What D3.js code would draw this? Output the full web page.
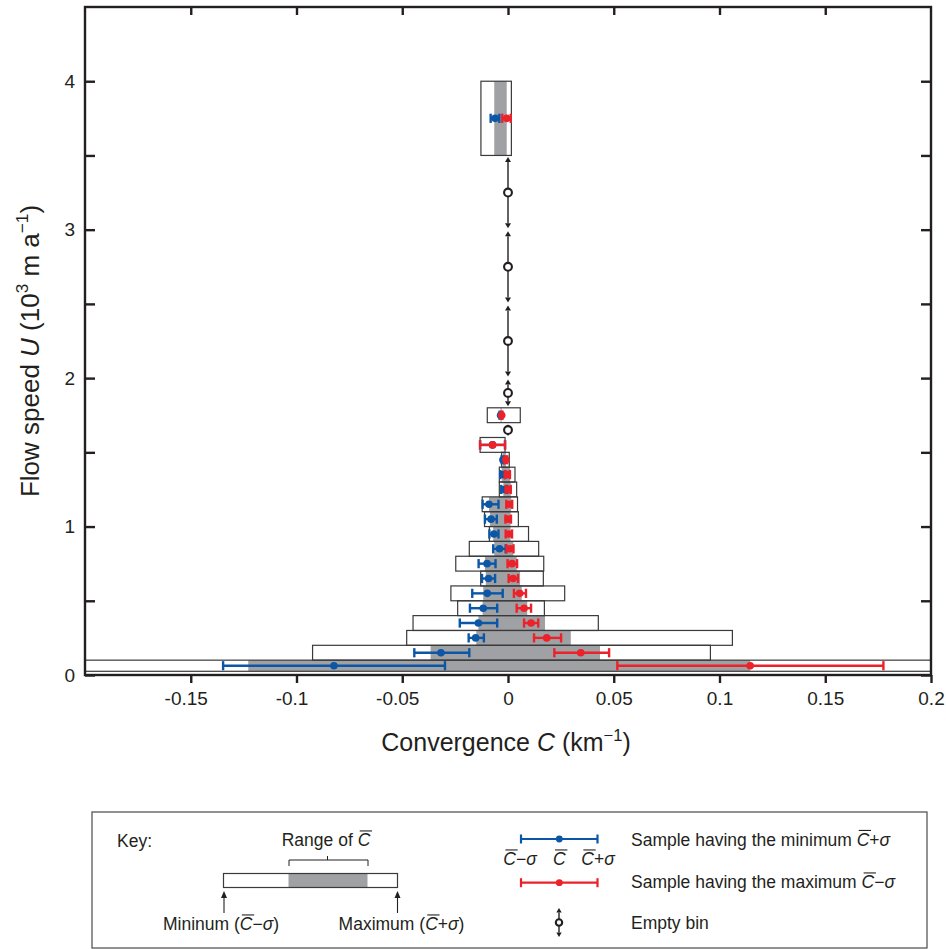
<!DOCTYPE html>
<html>
<head>
<meta charset="utf-8">
<script src="https://cdn.jsdelivr.net/npm/d3@7"></script>
<style>
  body { margin: 0; background: #fff; }
  text { font-family: "Liberation Sans", Arial, Helvetica, sans-serif; fill: #231f20; }
</style>
</head>
<body>
<svg id="chart" width="946" height="949"></svg>
<script>
// ---- Occupied flow-speed bins (10^3 m a^-1) ----
const binLow  = [0.025, 0.1, 0.2, 0.3, 0.4, 0.5, 0.6, 0.7, 0.8, 0.9, 1.0, 1.1, 1.2, 1.3, 1.4, 1.5, 1.7, 3.5];
const binHigh = [0.1,   0.2, 0.3, 0.4, 0.5, 0.6, 0.7, 0.8, 0.9, 1.0, 1.1, 1.2, 1.3, 1.4, 1.5, 1.6, 1.8, 4.0];

// Overall minimum (C̄−σ) and maximum (C̄+σ) in each bin (km^-1)
const boxMin = [-0.21, -0.0924, -0.0479, -0.0449, -0.0238, -0.0270, -0.0129, -0.0247, -0.0183, -0.0088, -0.0111, -0.0122, -0.0041, -0.0041, -0.0030, -0.0132, -0.0098, -0.0128];
const boxMax = [ 0.21,  0.0957,  0.1061,  0.0427,  0.0172,  0.0268,  0.0167,  0.0169,  0.0145,  0.0097,  0.0049,  0.0045,  0.0041,  0.0033,  0.0006, -0.0014,  0.0058,  0.0016];

// Range of C̄ within each bin
const meanMin = [-0.1228, -0.0366, -0.0150, -0.0140, -0.0120, -0.0117, -0.0105, -0.0109, -0.0065, -0.0070, -0.0085, -0.0090, -0.0022, -0.0030, -0.0024, -0.0073, -0.0035, -0.0065];
const meanMax = [ 0.1145,  0.0435,  0.0297,  0.0175,  0.0091,  0.0065,  0.0057,  0.0041,  0.0025,  0.0012,  0.0012,  0.0015,  0.0013,  0.0010, -0.0010, -0.0073, -0.0030, -0.0006];

// Sample having the minimum C̄+σ
const blueLo   = [-0.1347, -0.0443, -0.0186, -0.0228, -0.0180, -0.0169, -0.0123, -0.0139, -0.0070, -0.0088, -0.0109, -0.0120, -0.0032, -0.0037, -0.0030, -0.0132, -0.0040, -0.0082];
const blueMean = [-0.0823, -0.0317, -0.0153, -0.0140, -0.0117, -0.0098, -0.0092, -0.0099, -0.0040, -0.0066, -0.0080, -0.0090, -0.0018, -0.0025, -0.0024, -0.0073, -0.0035, -0.0061];
const blueHi   = [-0.0298, -0.0183, -0.0114, -0.0051, -0.0051, -0.0025, -0.0061, -0.0059, -0.0011, -0.0045, -0.0053, -0.0045, -0.0004, -0.0013, -0.0018, -0.0014, -0.0030, -0.0041];

// Sample having the maximum C̄−σ
const redLo   = [0.0517, 0.0219, 0.0123, 0.0076, 0.0041, 0.0028, 0.0003, -0.0002, -0.0007, -0.0011, -0.0012, -0.0008, -0.0011, -0.0015, -0.0016, -0.0132, -0.0034, -0.0027];
const redMean = [0.1145, 0.0344, 0.0183, 0.0109, 0.0076, 0.0055, 0.0024,  0.0019,  0.0009,  0.0004,  0.0001,  0.0006,  0.0001, -0.0003, -0.0010, -0.0073, -0.0030, -0.0006];
const redHi   = [0.1775, 0.0478, 0.0251, 0.0143, 0.0109, 0.0085, 0.0047,  0.0043,  0.0026,  0.0019,  0.0014,  0.0020,  0.0013,  0.0009, -0.0004, -0.0014, -0.0026,  0.0013];

// Bins with no samples
const emptyLow  = [1.6, 1.8, 2.0, 2.5, 3.0];
const emptyHigh = [1.7, 2.0, 2.5, 3.0, 3.5];

// Axis ticks
const xTicks = [-0.15, -0.1, -0.05, 0, 0.05, 0.1, 0.15, 0.2];
const xTickLabels = ["-0.15", "-0.1", "-0.05", "0", "0.05", "0.1", "0.15", "0.2"];
const xTopTicks = [-0.15, -0.1, -0.05, 0, 0.05, 0.1, 0.15];
const yTicks = [0, 0.5, 1, 1.5, 2, 2.5, 3, 3.5, 4];
const yTickLabels = ["0", "", "1", "", "2", "", "3", "", "4"];

// ---- Colours ----
const BLUE = "#0b57a5", RED = "#ec2129", GRAY = "#a0a1a5", INK = "#231f20";

const svg = d3.select("#chart");
const x = d3.scaleLinear().domain([-0.2, 0.2]).range([85, 931]);
const y = d3.scaleLinear().domain([0, 4.5]).range([675, 7]);

svg.append("defs").append("clipPath").attr("id", "plotClip")
  .append("rect")
  .attr("x", x.range()[0]).attr("y", y.range()[1])
  .attr("width", x.range()[1] - x.range()[0])
  .attr("height", y.range()[0] - y.range()[1]);

const rows = binLow.map((lo, i) => ({
  lo, hi: binHigh[i], bmin: boxMin[i], bmax: boxMax[i],
  mmin: meanMin[i], mmax: meanMax[i],
  blue: [blueLo[i], blueMean[i], blueHi[i]],
  red: [redLo[i], redMean[i], redHi[i]]
}));

const marks = svg.append("g").attr("clip-path", "url(#plotClip)");

// Bin boxes: white background, grey range of C̄, then outline
marks.selectAll("rect.bg").data(rows).join("rect").attr("class", "bg")
  .attr("x", d => x(d.bmin)).attr("width", d => x(d.bmax) - x(d.bmin))
  .attr("y", d => y(d.hi)).attr("height", d => y(d.lo) - y(d.hi))
  .attr("fill", "#fff");
marks.selectAll("rect.range").data(rows).join("rect").attr("class", "range")
  .attr("x", d => x(d.mmin)).attr("width", d => x(d.mmax) - x(d.mmin))
  .attr("y", d => y(d.hi)).attr("height", d => y(d.lo) - y(d.hi))
  .attr("fill", GRAY);
marks.selectAll("rect.outline").data(rows).join("rect").attr("class", "outline")
  .attr("x", d => x(d.bmin)).attr("width", d => x(d.bmax) - x(d.bmin))
  .attr("y", d => y(d.hi)).attr("height", d => y(d.lo) - y(d.hi))
  .attr("fill", "none").attr("stroke", "#3a3a3a").attr("stroke-width", 1.2);

// Error bars (C̄−σ, C̄, C̄+σ)
function drawErrorBars(key, color) {
  const g = marks.append("g").attr("class", "err-" + key);
  rows.forEach(d => {
    const v = d[key];
    const ym = y((d.lo + d.hi) / 2);
    g.append("line").attr("x1", x(v[0])).attr("x2", x(v[2])).attr("y1", ym).attr("y2", ym)
      .attr("stroke", color).attr("stroke-width", 2.4);
    [v[0], v[2]].forEach(c => g.append("line")
      .attr("x1", x(c)).attr("x2", x(c)).attr("y1", ym - 4.6).attr("y2", ym + 4.6)
      .attr("stroke", color).attr("stroke-width", 2.4));
    g.append("circle").attr("cx", x(v[1])).attr("cy", ym).attr("r", 3.8).attr("fill", color);
  });
}
drawErrorBars("blue", BLUE);
drawErrorBars("red", RED);

// Empty-bin markers: double arrow spanning the bin with a hollow circle at its centre
function emptyMarker(g, cx, yTop, yBot, r, head) {
  g.append("line").attr("x1", cx).attr("x2", cx).attr("y1", yTop + head).attr("y2", yBot - head)
    .attr("stroke", INK).attr("stroke-width", 1.4);
  g.append("path").attr("d", `M${cx},${yTop}L${cx - head * 0.6},${yTop + head}L${cx + head * 0.6},${yTop + head}Z`).attr("fill", INK);
  g.append("path").attr("d", `M${cx},${yBot}L${cx - head * 0.6},${yBot - head}L${cx + head * 0.6},${yBot - head}Z`).attr("fill", INK);
  g.append("circle").attr("cx", cx).attr("cy", (yTop + yBot) / 2).attr("r", r)
    .attr("fill", "#fff").attr("stroke", INK).attr("stroke-width", 2.1);
}
const emptyG = marks.append("g");
emptyLow.forEach((lo, i) => emptyMarker(emptyG, x(0), y(emptyHigh[i]) + 1.5, y(lo) - 1.5, 3.9, 5));

// ---- Axes and frame ----
function styleAxis(g) {
  g.select(".domain").remove();
  g.selectAll(".tick line").attr("stroke", INK).attr("stroke-width", 2.4);
  g.selectAll(".tick text").attr("font-size", 19).attr("fill", INK)
    .attr("font-family", "'Liberation Sans', Arial, sans-serif");
  g.attr("font-family", null).attr("font-size", null);
}
svg.append("g").attr("transform", `translate(0,${y(0)})`)
  .call(d3.axisBottom(x).tickValues(xTicks).tickFormat((d, i) => xTickLabels[i])
    .tickSizeInner(8).tickSizeOuter(0).tickPadding(8.5))
  .call(styleAxis)
  // negative labels sit slightly left so the digits stay near the tick
  .call(g => g.selectAll(".tick text").attr("dx", d => d < 0 ? -5 : 0));
svg.append("g").attr("transform", `translate(0,${y(4.5)})`)
  .call(d3.axisTop(x).tickValues(xTopTicks).tickFormat(() => "").tickSizeInner(-8).tickSizeOuter(0))
  .call(styleAxis);
svg.append("g").attr("transform", `translate(${x(-0.2)},0)`)
  .call(d3.axisLeft(y).tickValues(yTicks).tickFormat((d, i) => yTickLabels[i])
    .tickSizeInner(-10).tickSizeOuter(0).tickPadding(10))
  .call(styleAxis);
svg.append("g").attr("transform", `translate(${x(0.2)},0)`)
  .call(d3.axisRight(y).tickValues(yTicks).tickFormat(() => "").tickSizeInner(-10).tickSizeOuter(0))
  .call(styleAxis);

svg.append("rect")
  .attr("x", x(-0.2)).attr("y", y(4.5))
  .attr("width", x(0.2) - x(-0.2)).attr("height", y(0) - y(4.5))
  .attr("fill", "none").attr("stroke", INK).attr("stroke-width", 2.4);

// ---- Rich text helper: italics, superscripts and overbars ----
function richText(parent, px, py, parts, size, anchor) {
  const t = parent.append("text").attr("x", px).attr("y", py)
    .attr("font-size", size).attr("text-anchor", anchor || "start");
  let shift = 0, idx = 0;
  const bars = [];
  parts.forEach(p => {
    const s = t.append("tspan").text(p.t);
    if (p.i) s.attr("font-style", "italic");
    const target = p.sup ? -size * 0.42 : 0;
    if (target !== shift) { s.attr("dy", target - shift); shift = target; }
    if (p.sup) s.attr("font-size", size * 0.66);
    if (p.bar) bars.push({ start: idx, n: [...p.t].length });
    idx += [...p.t].length;
  });
  const node = t.node();
  bars.forEach(b => {
    const s = node.getStartPositionOfChar(b.start);
    const e = node.getEndPositionOfChar(b.start + b.n - 1);
    const yy = s.y - size * 0.86;
    parent.append("line")
      .attr("x1", s.x + size * 0.12).attr("x2", e.x + size * 0.1)
      .attr("y1", yy).attr("y2", yy)
      .attr("stroke", INK).attr("stroke-width", 1.1);
  });
  return t;
}

// Axis titles
richText(svg, 506, 751, [
  { t: "Convergence " }, { t: "C", i: true }, { t: " (km" }, { t: "−1", sup: true }, { t: ")" }
], 25, "middle");

const yTitle = svg.append("g").attr("transform", "translate(39,351) rotate(-90)");
richText(yTitle, 0, 0, [
  { t: "Flow speed " }, { t: "U", i: true }, { t: " (10" }, { t: "3", sup: true },
  { t: " m a" }, { t: "−1", sup: true }, { t: ")" }
], 26, "middle");

// ---- Key ----
const key = svg.append("g");
key.append("rect").attr("x", 92).attr("y", 812).attr("width", 835).attr("height", 136)
  .attr("fill", "#fff").attr("stroke", "#4a4a4a").attr("stroke-width", 1.2);

const KS = 17.5;
richText(key, 117, 847, [{ t: "Key:" }], KS);
richText(key, 326, 846, [{ t: "Range of " }, { t: "C", i: true, bar: true }], KS, "middle");

// bracket over the range of C̄
key.append("path").attr("d", "M289,866V860H368V866M327.5,860V856")
  .attr("fill", "none").attr("stroke", INK).attr("stroke-width", 1);

// sample bin box
key.append("rect").attr("x", 223.5).attr("y", 873.5).attr("width", 174).attr("height", 14).attr("fill", "#fff");
key.append("rect").attr("x", 288.5).attr("y", 873.5).attr("width", 79).attr("height", 14).attr("fill", GRAY);
key.append("rect").attr("x", 223.5).attr("y", 873.5).attr("width", 174).attr("height", 14)
  .attr("fill", "none").attr("stroke", "#3a3a3a").attr("stroke-width", 1.2);

[224, 397.5].forEach(ax => {
  key.append("line").attr("x1", ax).attr("x2", ax).attr("y1", 913).attr("y2", 897)
    .attr("stroke", INK).attr("stroke-width", 1.1);
  key.append("path").attr("d", `M${ax},891L${ax - 3},898L${ax + 3},898Z`).attr("fill", INK);
});
richText(key, 221, 930, [{ t: "Mininum (" }, { t: "C", i: true, bar: true }, { t: "−" }, { t: "σ", i: true }, { t: ")" }], KS, "middle");
richText(key, 401.5, 930, [{ t: "Maximum (" }, { t: "C", i: true, bar: true }, { t: "+" }, { t: "σ", i: true }, { t: ")" }], KS, "middle");

// error-bar key entries
function keyBar(yy, color) {
  key.append("line").attr("x1", 521).attr("x2", 597.5).attr("y1", yy).attr("y2", yy)
    .attr("stroke", color).attr("stroke-width", 2.2);
  [521, 597.5].forEach(c => key.append("line").attr("x1", c).attr("x2", c)
    .attr("y1", yy - 4.5).attr("y2", yy + 4.5).attr("stroke", color).attr("stroke-width", 2.2));
  key.append("circle").attr("cx", 559.3).attr("cy", yy).attr("r", 3.4).attr("fill", color);
}
keyBar(839, BLUE);
keyBar(882.7, RED);

richText(key, 520, 865, [{ t: "C", i: true, bar: true }, { t: "−" }, { t: "σ", i: true }], KS, "middle");
richText(key, 559.3, 865, [{ t: "C", i: true, bar: true }], KS, "middle");
richText(key, 598, 865, [{ t: "C", i: true, bar: true }, { t: "+" }, { t: "σ", i: true }], KS, "middle");

emptyMarker(key, 559, 908, 937, 3.2, 4.5);

richText(key, 631, 845.5, [{ t: "Sample having the minimum " }, { t: "C", i: true, bar: true }, { t: "+" }, { t: "σ", i: true }], KS);
richText(key, 631, 888, [{ t: "Sample having the maximum " }, { t: "C", i: true, bar: true }, { t: "−" }, { t: "σ", i: true }], KS);
richText(key, 631, 929, [{ t: "Empty bin" }], KS);
</script>
</body>
</html>
